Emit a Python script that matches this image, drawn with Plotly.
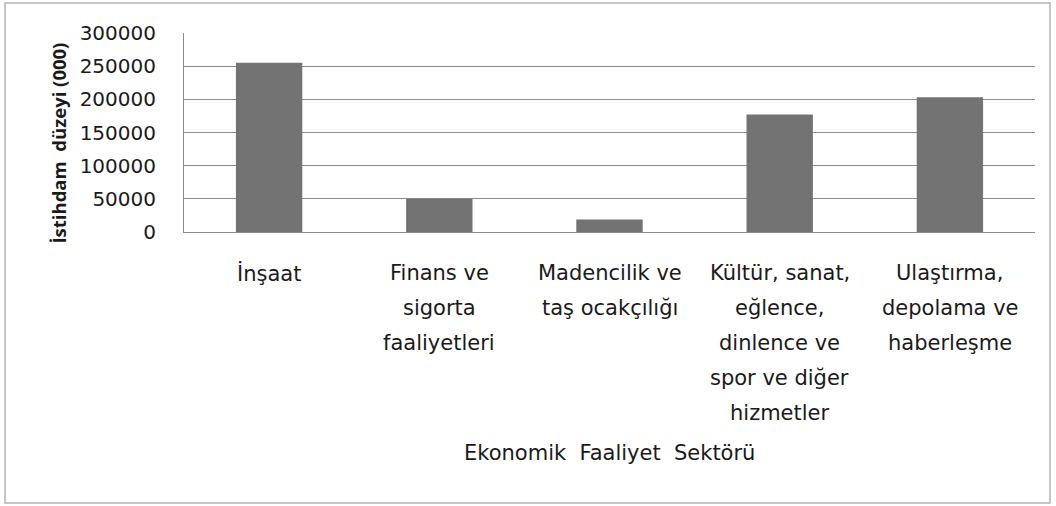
import plotly.graph_objects as go

categories = ["İnşaat", "Finans ve sigorta faaliyetleri", "Madencilik ve taş ocakçılığı",
              "Kültür, sanat, eğlence, dinlence ve spor ve diğer hizmetler",
              "Ulaştırma, depolama ve haberleşme"]
label_lines = [
    ["İnşaat"],
    ["Finans ve", "sigorta", "faaliyetleri"],
    ["Madencilik ve", "taş ocakçılığı"],
    ["Kültür, sanat,", "eğlence,", "dinlence ve", "spor ve diğer", "hizmetler"],
    ["Ulaştırma,", "depolama ve", "haberleşme"],
]
values = [255000, 50000, 19000, 177000, 203000]
y_ticks = [0, 50000, 100000, 150000, 200000, 250000, 300000]
y_title = "İstihdam  düzeyi (000)"
x_title = "Ekonomik  Faaliyet  Sektörü"

W, H = 1056, 506
L, R, T, B = 184, 21, 33, 274
FONT = "DejaVu Sans"
TXT = "#1a1a1a"

fig = go.Figure(go.Bar(x=categories, y=values, marker=dict(color="#737373", line=dict(width=0)),
                       width=0.39))

pw = W - L - R
ph = H - T - B
def px_x(p):
    return (p - L) / pw
def px_y(p):
    return (H - B - p) / ph

annotations = []
for cat, lines in zip(categories, label_lines):
    for i, ln in enumerate(lines):
        annotations.append(dict(x=cat, y=0, xref="x", yref="y", text=ln, showarrow=False,
                                yanchor="middle", xanchor="center",
                                yshift=-(41 + 35 * i),
                                font=dict(family=FONT, size=21, color=TXT)))
annotations.append(dict(x=0.5, y=0, xref="paper", yref="y", text=x_title,
                        showarrow=False, yanchor="middle", yshift=-221,
                        font=dict(family=FONT, size=21, color=TXT)))
annotations.append(dict(x=px_x(57.5), y=px_y(143), xref="paper", yref="paper",
                        text="<b>" + y_title + "</b>", textangle=-90, showarrow=False,
                        xanchor="center", yanchor="middle",
                        font=dict(family="Open Sans", size=18.5, color=TXT)))

fig.update_layout(
    width=W, height=H,
    margin=dict(l=L, r=R, t=T, b=B, autoexpand=False),
    paper_bgcolor="white", plot_bgcolor="white",
    showlegend=False,
    bargap=0.61,
    font=dict(family=FONT, color=TXT),
    xaxis=dict(showticklabels=False, showgrid=False, showline=True, linecolor="#8c8c8c",
               linewidth=1, ticks="", zeroline=False),
    yaxis=dict(range=[0, 300000], tickvals=y_ticks, ticktext=[str(v) for v in y_ticks],
               showgrid=True, gridcolor="#8c8c8c", gridwidth=1, showline=True,
               linecolor="#8c8c8c", linewidth=1, zeroline=False,
               tickfont=dict(family=FONT, size=20, color=TXT), ticklabelstandoff=23),
    annotations=annotations,
    shapes=[dict(type="rect", xref="paper", yref="paper",
                 x0=px_x(5), x1=px_x(1050), y0=px_y(503), y1=px_y(3),
                 line=dict(color="#b4b4b4", width=1.5), fillcolor="rgba(0,0,0,0)", layer="below")],
)

fig.write_html("out.html", config={"displayModeBar": False},
               post_script="document.body.style.margin='0';")
